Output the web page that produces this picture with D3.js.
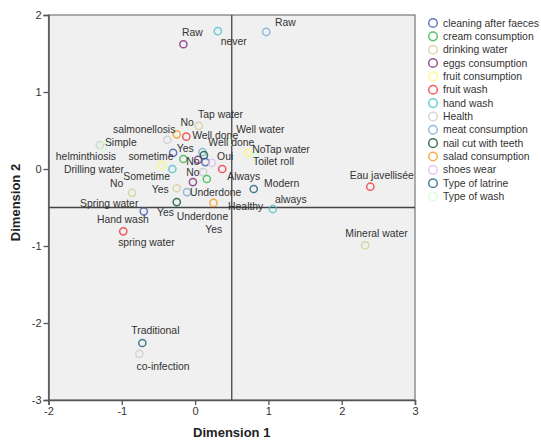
<!DOCTYPE html>
<html>
<head>
<meta charset="utf-8">
<script src="https://cdn.jsdelivr.net/npm/d3@7"></script>
<style>
  body { margin: 0; background: #fff; }
  text { font-family: "Liberation Sans", Arial, sans-serif; }
</style>
</head>
<body>
<div id="chart"></div>
<script>
// variables (legend order) and their SPSS colours
var variables = ["cleaning after faeces", "cream consumption", "drinking water", "eggs consumption",
  "fruit consumption", "fruit wash", "hand wash", "Health", "meat consumption", "nail cut with teeth",
  "salad consumption", "shoes wear", "Type of latrine", "Type of wash"];
var colores = ["#3e58ac", "#2eb848", "#d3ce97", "#7c287d", "#fbf873", "#ef3338", "#48c2c5",
  "#cccccc", "#7aaad5", "#0a562c", "#f8981d", "#ddbaf1", "#1a5f76", "#ccffcc"];

// category points: variable, label, dimension 1, dimension 2, label position (dim1, dim2)
var categorias = ["eggs consumption", "hand wash", "meat consumption", "drinking water", "salad consumption",
  "Health", "fruit wash", "Health", "Type of wash", "cleaning after faeces", "meat consumption",
  "eggs consumption", "nail cut with teeth", "cream consumption", "cleaning after faeces", "shoes wear",
  "fruit consumption", "hand wash", "fruit wash", "Health", "cream consumption", "eggs consumption",
  "drinking water", "meat consumption", "nail cut with teeth", "salad consumption", "cleaning after faeces",
  "drinking water", "fruit wash", "fruit consumption", "Type of wash", "Type of wash", "Type of latrine",
  "hand wash", "fruit wash", "drinking water", "Type of latrine", "Health"];
var etiquetas = ["Raw", "never", "Raw", "Tap water", "No", "salmonellosis", "Yes", "helminthiosis", "Simple",
  "sometime", "Well done", "Well done", "No", "No", "Toilet roll", "Oui", "No", "Sometime", "Always",
  "Healthy", "Yes", "Underdone", "Drilling water", "Underdone", "Yes", "Yes", "Hand wash", "Spring water",
  "spring water", "No", "Tap water", "Well water", "Modern", "always", "Eau javellisée", "Mineral water",
  "Traditional", "co-infection"];
var dim1 = [-0.16, 0.31, 0.97, 0.05, -0.25, -0.38, -0.12, -1.30, -1.26, -0.30, 0.10, 0.04, 0.12, -0.16,
  0.14, 0.23, -0.46, -0.31, 0.37, 0.11, 0.16, -0.03, -0.25, -0.11, -0.25, 0.25, -0.70, -0.86, -0.98,
  0.72, 0.82, 0.48, 0.80, 1.06, 2.39, 2.32, -0.72, -0.76];
var dim2 = [1.62, 1.79, 1.78, 0.56, 0.45, 0.38, 0.42, 0.31, 0.29, 0.21, 0.22, 0.12, 0.18, 0.13,
  0.09, 0.08, 0.05, 0.00, 0.00, -0.04, -0.13, -0.17, -0.25, -0.30, -0.43, -0.44, -0.55, -0.31, -0.81,
  0.21, 0.16, 0.36, -0.26, -0.52, -0.23, -0.99, -2.26, -2.40];
var etiqueta_x = [-0.18, 0.35, 1.09, 0.04, -0.20, -1.12, -0.25, -1.90, -1.23, -0.91, -0.04, 0.18, -0.12,
  -0.12, 0.79, 0.30, -1.16, -0.98, 0.44, 0.45, -0.52, -0.07, -1.79, -0.25, 0.14, -0.59, -1.34, -1.57,
  -1.05, 0.78, 0.95, 0.56, 0.94, 1.09, 2.11, 2.05, -0.87, -0.80];
var etiqueta_y = [1.77, 1.66, 1.90, 0.71, 0.60, 0.51, 0.27, 0.16, 0.34, 0.17, 0.44, 0.34, 0.10, -0.04,
  0.10, 0.16, -0.19, -0.10, -0.10, -0.49, -0.56, -0.30, -0.01, -0.61, -0.79, -0.27, -0.66, -0.45, -0.95,
  0.26, 0.26, 0.51, -0.19, -0.39, -0.08, -0.83, -2.10, -2.56];

var ticks_x = [-2, -1, 0, 1, 2, 3];
var ticks_y = [-3, -2, -1, 0, 1, 2];
var ref_x = 0.5, ref_y = -0.5;

var props = {width: 541, height: 444};
var margin = {top: 15, right: 126, bottom: 44, left: 48.5};
var width = props.width - margin.left - margin.right;
var height = props.height - margin.top - margin.bottom;
var fontSize = 10.4;

var svg = d3.select("#chart").append("svg")
    .attr("width", props.width)
    .attr("height", props.height);

var g = svg.append("g")
    .attr("transform", "translate(" + margin.left + "," + margin.top + ")");

var xScale = d3.scaleLinear().domain([-2, 3]).range([0, width]);
var yScale = d3.scaleLinear().domain([-3, 2]).range([height, 0]);
var color = d3.scaleOrdinal().domain(variables).range(colores);

// fondo del área de trazado
g.append("rect")
    .attr("width", width)
    .attr("height", height)
    .attr("fill", "#f0f0f0")
    .attr("stroke", "#777")
    .attr("stroke-width", 1.2);

// líneas de referencia
g.append("line")
    .attr("x1", xScale(ref_x)).attr("x2", xScale(ref_x))
    .attr("y1", 0).attr("y2", height)
    .attr("stroke", "#444").attr("stroke-width", 1.3);
g.append("line")
    .attr("x1", 0).attr("x2", width)
    .attr("y1", yScale(ref_y)).attr("y2", yScale(ref_y))
    .attr("stroke", "#444").attr("stroke-width", 1.3);

// ejes (con guion simple, como en SPSS)
var fmt = function(d) { return String(d); };
var xAxisG = g.append("g")
    .attr("transform", "translate(0," + height + ")")
    .call(d3.axisBottom(xScale).tickValues(ticks_x).tickSize(5).tickPadding(2).tickFormat(fmt));
var yAxisG = g.append("g")
    .call(d3.axisLeft(yScale).tickValues(ticks_y).tickSize(5).tickPadding(2).tickFormat(fmt));
[xAxisG, yAxisG].forEach(function(a) {
  a.select(".domain").attr("stroke", "#555").attr("stroke-width", 1.5);
  a.selectAll(".tick line").attr("stroke", "#555").attr("stroke-width", 1.3);
  a.selectAll(".tick text").attr("fill", "#333").style("font-size", "11px")
    .style("font-family", "'Liberation Sans', Arial, sans-serif");
});

// títulos de ejes
g.append("text")
    .attr("x", width / 2)
    .attr("y", height + 37)
    .attr("text-anchor", "middle")
    .style("font-size", "13px")
    .style("font-weight", "bold")
    .attr("fill", "#222")
    .text("Dimension 1");
g.append("text")
    .attr("transform", "rotate(-90)")
    .attr("x", -height / 2 + 5)
    .attr("y", -margin.left + 20)
    .attr("text-anchor", "middle")
    .style("font-size", "13px")
    .style("font-weight", "bold")
    .attr("fill", "#222")
    .text("Dimension 2");

var puntos = d3.range(etiquetas.length);

// puntos
g.selectAll(".punto").data(puntos)
  .enter().append("circle")
    .attr("class", "punto")
    .attr("cx", function(i) { return xScale(dim1[i]); })
    .attr("cy", function(i) { return yScale(dim2[i]); })
    .attr("r", 3.6)
    .attr("fill", "none")
    .attr("stroke", function(i) { return color(categorias[i]); })
    .attr("stroke-width", 1.5)
    .attr("stroke-opacity", 0.8);

// etiquetas
g.selectAll(".etiqueta").data(puntos)
  .enter().append("text")
    .attr("class", "etiqueta")
    .attr("x", function(i) { return xScale(etiqueta_x[i]); })
    .attr("y", function(i) { return yScale(etiqueta_y[i]); })
    .attr("dy", "0.35em")
    .style("font-size", fontSize + "px")
    .attr("fill", "#333")
    .text(function(i) { return etiquetas[i]; });

// leyenda
var legend = svg.append("g")
    .attr("transform", "translate(433,23)");
legend.selectAll("circle").data(variables)
  .enter().append("circle")
    .attr("cx", 0)
    .attr("cy", function(d, i) { return i * 13.35; })
    .attr("r", 4.3)
    .attr("fill", "none")
    .attr("stroke", function(d) { return color(d); })
    .attr("stroke-width", 1.5)
    .attr("stroke-opacity", 0.8);
legend.selectAll("text").data(variables)
  .enter().append("text")
    .attr("x", 10)
    .attr("y", function(d, i) { return i * 13.35; })
    .attr("dy", "0.35em")
    .style("font-size", fontSize + "px")
    .attr("fill", "#333")
    .text(function(d) { return d; });
</script>
</body>
</html>
